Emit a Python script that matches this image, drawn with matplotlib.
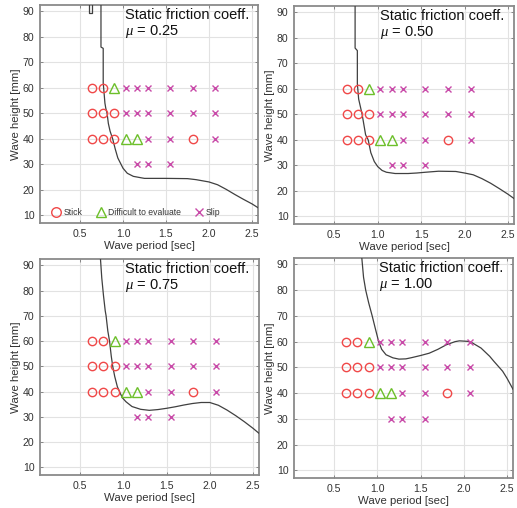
import matplotlib
matplotlib.use("Agg")
import matplotlib.pyplot as plt

plt.rcParams['font.family'] = ['Liberation Sans', 'DejaVu Sans']
plt.rcParams['mathtext.fontset'] = 'custom'
plt.rcParams['mathtext.it'] = 'Liberation Serif:italic'

W, H = 517, 508

# Experimental grid results (same in every panel)
stick_T = [0.64, 0.77, 0.64, 0.77, 0.90, 0.64, 0.77, 0.90, 1.81]
stick_H = [60, 60, 50, 50, 50, 40, 40, 40, 40]
diff_T = [0.90, 1.03, 1.16]
diff_H = [60, 40, 40]
slip_T = [1.03, 1.16, 1.29, 1.55, 1.81, 2.07,
          1.03, 1.16, 1.29, 1.55, 1.81, 2.07,
          1.29, 1.55, 2.07,
          1.16, 1.29, 1.55]
slip_H = [60, 60, 60, 60, 60, 60,
          50, 50, 50, 50, 50, 50,
          40, 40, 40,
          30, 30, 30]

mu_labels = ["0.25", "0.50", "0.75", "1.00"]

# Boundary curves
c025_T = [0.744, 0.744, 0.77, 0.77, 0.78, 0.79, 0.80, 0.815, 0.83, 0.85, 0.87, 0.88, 0.91, 0.94,
          0.97, 1.0, 1.05, 1.12, 1.2, 1.25, 1.5, 1.75, 1.85, 2.0, 2.1, 2.2, 2.3, 2.4, 2.5, 2.57]
c025_H = [92.5, 76, 75.5, 62, 58, 54, 52, 50, 46, 43, 41, 40, 36, 32.5,
          30.5, 28.5, 26.5, 25.3, 24.8, 24.5, 24.5, 24.4, 24.0, 23.1, 22.0, 20.2, 18.2, 16.3, 14.5, 13.0]
c025b_T = [0.61, 0.61, 0.64, 0.64]
c025b_H = [92.5, 89.3, 89.3, 92.5]

c050_T = [0.739, 0.739, 0.765, 0.765, 0.78, 0.80, 0.82, 0.84, 0.86, 0.89, 0.92, 0.96, 1.0, 1.05,
          1.1, 1.2, 1.35, 1.45, 1.55, 1.7, 1.9, 2.0, 2.1, 2.2, 2.3, 2.4, 2.5, 2.57]
c050_H = [92.5, 76, 75, 62, 56, 53, 50, 46, 42, 40, 35, 31.5, 29.5, 28,
          27.3, 26.8, 26.8, 27.0, 27.3, 27.7, 27.6, 27.0, 26.3, 24.8, 23.0, 20.9, 18.7, 17.0]

c075_T = [0.735, 0.75, 0.77, 0.79, 0.80, 0.82, 0.84, 0.86, 0.877, 0.9, 0.93, 0.955, 0.99, 1.03,
          1.1, 1.2, 1.3, 1.4, 1.5, 1.6, 1.7, 1.8, 1.9, 2.0, 2.1, 2.2, 2.3, 2.4, 2.5, 2.57]
c075_H = [92.5, 85, 78, 72, 70, 64, 60, 54, 50, 46, 42, 40, 37.5, 36,
          34.1, 33.0, 32.6, 32.9, 33.4, 34.0, 34.7, 35.3, 35.7, 35.7, 34.6, 32.7, 30.5, 28.1, 25.5, 23.5]

c100_T = [0.82, 0.84, 0.865, 0.90, 0.94, 0.977, 1.015, 1.05, 1.1, 1.18, 1.25, 1.33, 1.4, 1.5,
          1.6, 1.7, 1.8, 1.9, 1.95, 2.05, 2.1, 2.2, 2.3, 2.35, 2.45, 2.5, 2.57]
c100_H = [92.5, 85, 80, 75, 70, 65, 60, 57, 54.9, 53.7, 53.2, 53.3, 53.8, 54.6,
          55.5, 57.0, 58.8, 60.0, 60.3, 60.1, 59.5, 57.5, 54.3, 52.3, 48.5, 45.8, 41.5]

curves = [[(c025_T, c025_H), (c025b_T, c025b_H)],
          [(c050_T, c050_H)],
          [(c075_T, c075_H)],
          [(c100_T, c100_H)]]

xticks = [0.5, 1.0, 1.5, 2.0, 2.5]
yticks = [10, 20, 30, 40, 50, 60, 70, 80, 90]

# pixel boxes: left, right, top, bottom
boxes = [(40, 258, 5, 223), (294, 514, 6, 224), (40, 259, 259, 475), (294, 513, 258, 478)]

fig = plt.figure(figsize=(W / 100, H / 100), dpi=100)
fig.patch.set_facecolor("white")

red = "#f04848"
green = "#6cbf2a"
mag = "#c84aa8"

for i, (l, r, t, b) in enumerate(boxes):
    ax = fig.add_axes([l / W, (H - b) / H, (r - l) / W, (b - t) / H])
    ax.set_xlim(0.035, 2.57)
    ax.set_ylim(7, 92.5)
    ax.set_xticks(xticks)
    ax.set_xticklabels([f"{v:.1f}" for v in xticks])
    ax.set_yticks(yticks)
    ax.grid(True, color="#e2e2e2", linewidth=0.8)
    ax.set_axisbelow(True)
    for s in ax.spines.values():
        s.set_color("#8a8a8a")
        s.set_linewidth(1.3)
    ax.tick_params(direction="in", length=2, width=0.6, color="#777777",
                   labelsize=7.6, labelcolor="#333333", pad=4, top=True, right=True)
    ax.set_xlabel("Wave period [sec]", fontsize=8.2, color="#333333", labelpad=2)
    ax.set_ylabel("Wave height [mm]", fontsize=8.2, color="#333333", labelpad=1.5)

    for (ct, ch) in curves[i]:
        ax.plot(ct, ch, color="#404040", linewidth=0.9, zorder=3)

    h1, = ax.plot(stick_T, stick_H, linestyle="none", marker="o", markersize=6,
                  markerfacecolor="none", markeredgecolor=red, markeredgewidth=1.0,
                  label="Stick", zorder=4)
    h2, = ax.plot(diff_T, diff_H, linestyle="none", marker="^", markersize=6.5,
                  markerfacecolor="none", markeredgecolor=green, markeredgewidth=1.0,
                  label="Difficult to evaluate", zorder=4)
    h3, = ax.plot(slip_T, slip_H, linestyle="none", marker="x", markersize=4.5,
                  color=mag, markeredgewidth=1.0, label="Slip", zorder=4)

    ax.text(0.39, 0.985, "Static friction coeff.\n$\\mu$ = " + mu_labels[i],
            transform=ax.transAxes, ha="left", va="top", fontsize=10.5,
            color="#111111", linespacing=1.08)

    if i == 0:
        ax.legend(handles=[h1, h2, h3], loc="lower left", bbox_to_anchor=(0.02, 0.0),
                  ncol=3, frameon=False, fontsize=6.2, handletextpad=0.15,
                  columnspacing=1.5, handlelength=1.3, borderaxespad=0.35,
                  markerscale=1.15, labelcolor="#333333")

fig.savefig("out.png", dpi=100, facecolor="white")
